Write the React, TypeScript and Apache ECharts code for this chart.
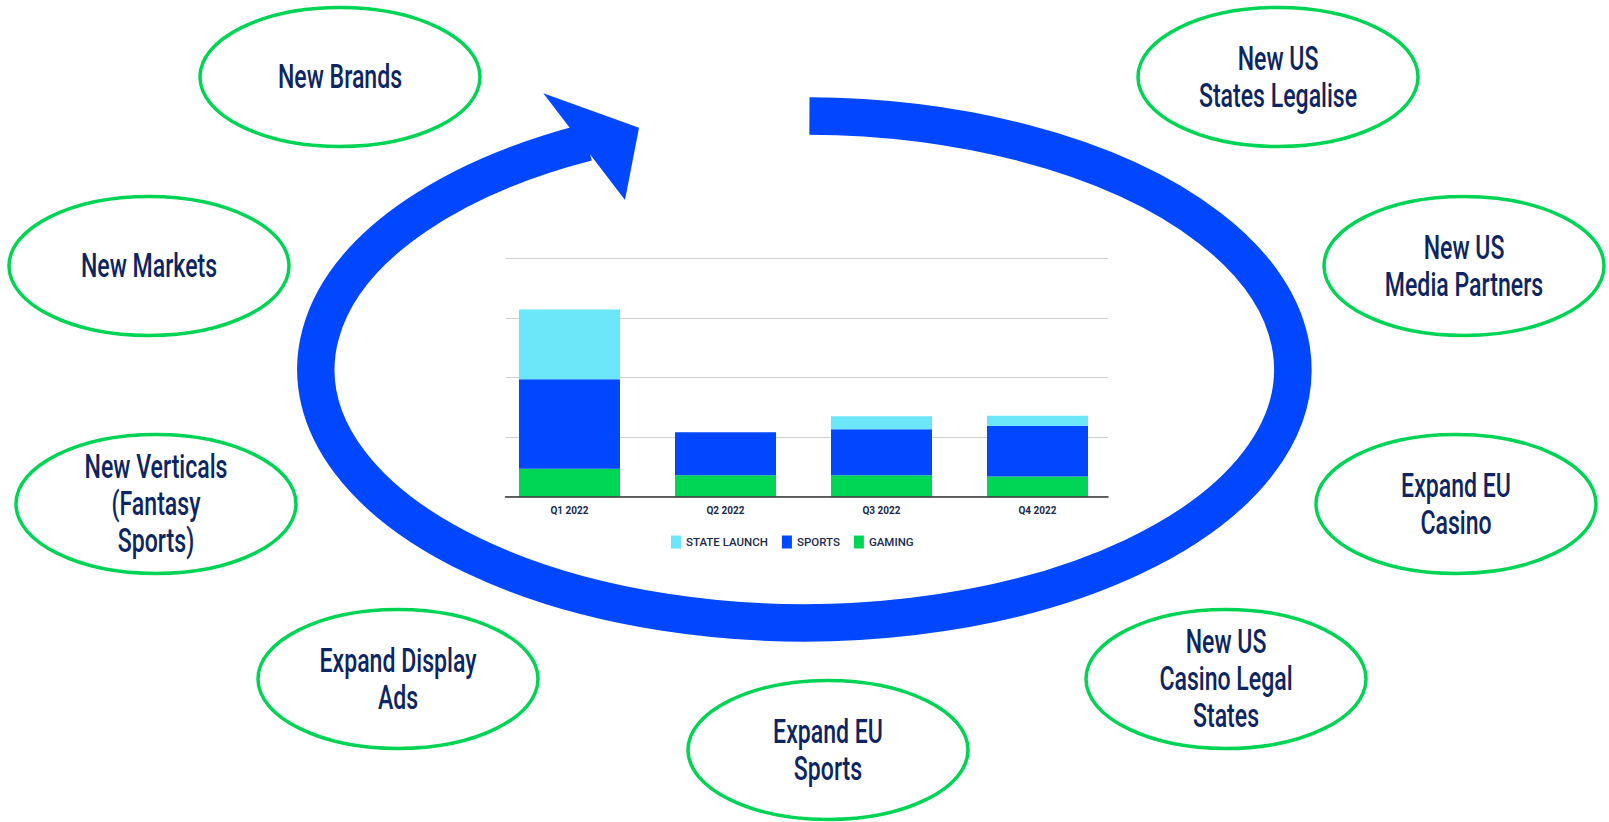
import React, { useEffect, useRef } from "react";
import * as echarts from "echarts";

// ---- chart data ----
const categories = ["Q1 2022", "Q2 2022", "Q3 2022", "Q4 2022"];
const gaming = [4.7, 3.6, 3.6, 3.4];
const sports = [15.0, 7.2, 7.7, 8.5];
const stateLaunch = [11.7, 0, 2.2, 1.7];
const legendNames = ["STATE LAUNCH", "SPORTS", "GAMING"];

// ---- bubble labels ----
const bubbleTexts = [
  "New Brands",
  "New Markets",
  "New Verticals\n(Fantasy\nSports)",
  "Expand Display\nAds",
  "Expand EU\nSports",
  "New US\nCasino Legal\nStates",
  "Expand EU\nCasino",
  "New US\nMedia Partners",
  "New US\nStates Legalise",
];

// layout (positions of bubbles, not data)
const bubbleCenters: [number, number][] = [
  [340, 77],
  [149, 266],
  [156, 504],
  [398, 679],
  [828, 750],
  [1226, 679],
  [1456, 504],
  [1464, 266],
  [1278, 77],
];

const COLORS = {
  state: "#6be6f9",
  sports: "#0047ff",
  gaming: "#00d655",
  ring: "#00d455",
  navy: "#0d2562",
  axisText: "#1b2a4e",
};

// big elliptical arrow geometry
const CX = 804.3, CY = 369.4, RX = 488.5, RY = 253.4;
const t0 = (-89.4 * Math.PI) / 180;
const t1 = (243.6 * Math.PI) / 180;
const sx = CX + RX * Math.cos(t0), sy = CY + RY * Math.sin(t0);
const ex = CX + RX * Math.cos(t1), ey = CY + RY * Math.sin(t1);
const arcD = `M ${sx.toFixed(2)} ${sy.toFixed(2)} A ${RX} ${RY} 0 1 1 ${ex.toFixed(2)} ${ey.toFixed(2)}`;
echarts.graphic.registerShape("bigArc", echarts.graphic.extendPath(arcD, {}));

export default function App() {
  const ref = useRef<HTMLDivElement>(null);

  useEffect(() => {
    if (!ref.current) return;
    const chart = echarts.init(ref.current, null, { renderer: "svg" });

    const graphics: any[] = [
      {
        type: "bigArc",
        x: 0,
        y: 0,
        z: 1,
        style: { fill: null, stroke: COLORS.sports, lineWidth: 37.5, lineCap: "butt" },
      },
      {
        type: "polygon",
        z: 2,
        shape: { points: [[543.3, 93.3], [639, 127.7], [625, 200]] },
        style: { fill: COLORS.sports },
      },
    ];
    bubbleTexts.forEach((t, i) => {
      const [cx, cy] = bubbleCenters[i];
      graphics.push({
        type: "ellipse",
        z: 3,
        shape: { cx, cy, rx: 140, ry: 69.5 },
        style: { fill: "#fff", stroke: COLORS.ring, lineWidth: 3.5 },
      });
      graphics.push({
        type: "text",
        z: 4,
        x: cx,
        y: cy,
        scaleX: 0.7,
        style: {
          text: t,
          fill: COLORS.navy,
          fontSize: 33,
          fontFamily: "Roboto",
          fontWeight: 500,
          lineHeight: 37,
          align: "center",
          verticalAlign: "middle",
        },
      });
    });

    const option: any = {
      animation: false,
      backgroundColor: "#ffffff",
      graphic: graphics,
      grid: [
        { left: 491.5, top: 258.3, width: 624, height: 238.4 },
        { left: 505.5, top: 258.3, width: 602.5, height: 238.4 },
      ],
      legend: {
        data: legendNames,
        left: 666,
        top: 530.5,
        itemWidth: 10,
        itemHeight: 13,
        itemGap: 14,
        icon: "rect",
        textStyle: { fontSize: 11.5, color: COLORS.axisText, fontFamily: "Roboto", fontWeight: 500 },
      },
      xAxis: [
        {
          gridIndex: 0,
          type: "category",
          data: categories,
          axisLine: { show: false },
          axisTick: { show: false },
          splitLine: { show: false },
          axisLabel: {
            margin: 9,
            fontSize: 10,
            fontWeight: "bold",
            color: COLORS.axisText,
            fontFamily: "Roboto",
          },
        },
        {
          gridIndex: 1,
          type: "category",
          data: categories,
          z: 5,
          axisLine: { show: true, lineStyle: { color: "#333333", width: 1.5 } },
          axisTick: { show: false },
          axisLabel: { show: false },
          splitLine: { show: false },
        },
      ],
      yAxis: [
        {
          gridIndex: 0,
          type: "value",
          min: 0,
          max: 40,
          interval: 10,
          axisLine: { show: false },
          axisTick: { show: false },
          axisLabel: { show: false },
          splitLine: { show: false },
        },
        {
          gridIndex: 1,
          type: "value",
          min: 0,
          max: 40,
          interval: 10,
          axisLine: { show: false },
          axisTick: { show: false },
          axisLabel: { show: false },
          splitLine: { show: true, lineStyle: { color: "#d0d0d0", width: 1 } },
        },
      ],
      series: [
        {
          name: "GAMING",
          type: "bar",
          stack: "total",
          xAxisIndex: 0,
          yAxisIndex: 0,
          barWidth: 101,
          data: gaming,
          itemStyle: { color: COLORS.gaming },
        },
        {
          name: "SPORTS",
          type: "bar",
          stack: "total",
          xAxisIndex: 0,
          yAxisIndex: 0,
          barWidth: 101,
          data: sports,
          itemStyle: { color: COLORS.sports },
        },
        {
          name: "STATE LAUNCH",
          type: "bar",
          stack: "total",
          xAxisIndex: 0,
          yAxisIndex: 0,
          barWidth: 101,
          data: stateLaunch,
          itemStyle: { color: COLORS.state },
        },
      ],
    };

    chart.setOption(option);
    return () => chart.dispose();
  }, []);

  return (
    <div
      ref={ref}
      style={{ position: "absolute", left: 0, top: 0, width: 1609, height: 822, background: "#fff" }}
    />
  );
}
